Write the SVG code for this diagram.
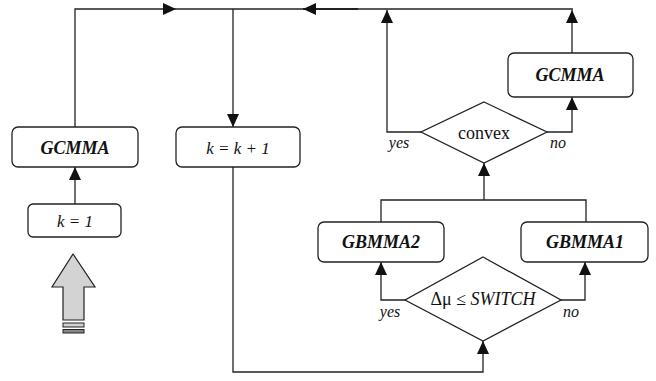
<svg xmlns="http://www.w3.org/2000/svg" width="656" height="381" viewBox="0 0 656 381">
  <defs>
    <marker id="arrow" markerUnits="userSpaceOnUse" markerWidth="14" markerHeight="13" refX="13" refY="6" orient="auto">
      <path d="M0,0 L13,6 L0,12 z" fill="#111"/>
    </marker>
    <style>
      .box { fill: #fff; stroke: #222; stroke-width: 1.3; }
      .wire { fill: none; stroke: #222; stroke-width: 1.3; }
      .arr { marker-end: url(#arrow); }
      .t { fill: #111; text-anchor: middle; }
      .bi { font-size: 18px; font-weight: bold; font-style: italic; }
      .it { font-size: 17px; font-style: italic; }
      .lbl { font-size: 16px; font-style: italic; }
      .rg { font-size: 18px; }
    </style>
  </defs>

  <!-- connectors -->
  <g id="connectors">
    <path class="wire arr" d="M75,127 V9 H176"/>
    <path class="wire" d="M176,9 H573"/>
    <path class="wire arr" d="M358,9 H303" style="stroke-width:2"/>
    <path class="wire arr" d="M233,9 V127"/>
    <path class="wire arr" d="M421,132 H387 V10"/>
    <path class="wire arr" d="M547,132 H572 V97"/>
    <path class="wire arr" d="M572,53 V10"/>
    <path class="wire arr" d="M484,200 V163"/>
    <path class="wire" d="M381,222 V200 H586 V222"/>
    <path class="wire arr" d="M75,204 V167"/>
    <path class="wire arr" d="M233,167 V372 H483 V341"/>
    <path class="wire arr" d="M405,300 H381 V262"/>
    <path class="wire arr" d="M561,300 H585 V262"/>
  </g>

  <!-- start marker -->
  <g id="start">
    <path d="M73,254 L95,287 L84,287 L84,320 L63,320 L63,287 L52,287 z" fill="#d3d3d3" stroke="#222" stroke-width="1.2"/>
    <rect x="63" y="323" width="21" height="4" fill="#d3d3d3" stroke="#222" stroke-width="1"/>
    <rect x="63" y="329.5" width="21" height="3.5" fill="#888" stroke="#222" stroke-width="1"/>
  </g>

  <g font-family="'Liberation Serif', 'DejaVu Serif', 'Times New Roman', serif">
    <g id="init">
      <rect class="box" x="28" y="204" width="93" height="33" rx="5"/>
      <text class="t it" x="75" y="227">k = 1</text>
    </g>

    <g id="gcmma-left">
      <rect class="box" x="12" y="127" width="126" height="40" rx="6"/>
      <text class="t bi" x="75" y="154">GCMMA</text>
    </g>

    <g id="increment">
      <rect class="box" x="176" y="127" width="124" height="40" rx="6"/>
      <text class="t it" x="238" y="154">k = k + 1</text>
    </g>

    <g id="switch">
      <polygon class="box" points="483,257 561,300 483,341 405,300"/>
      <text class="t rg" x="483" y="305">Δμ ≤ <tspan font-style="italic">SWITCH</tspan></text>
      <text class="t lbl" x="390" y="317">yes</text>
      <text class="t lbl" x="571" y="317">no</text>
    </g>

    <g id="gbmma2">
      <rect class="box" x="318" y="222" width="126" height="40" rx="6"/>
      <text class="t bi" x="381" y="248">GBMMA2</text>
    </g>

    <g id="gbmma1">
      <rect class="box" x="521" y="222" width="127" height="40" rx="6"/>
      <text class="t bi" x="585" y="248">GBMMA1</text>
    </g>

    <g id="convex">
      <polygon class="box" points="484,102 547,132 484,163 421,132"/>
      <text class="t rg" x="484" y="139">convex</text>
      <text class="t lbl" x="399" y="148">yes</text>
      <text class="t lbl" x="558" y="148">no</text>
    </g>

    <g id="gcmma-right">
      <rect class="box" x="508" y="53" width="125" height="44" rx="6"/>
      <text class="t bi" x="570" y="81">GCMMA</text>
    </g>
  </g>
</svg>
